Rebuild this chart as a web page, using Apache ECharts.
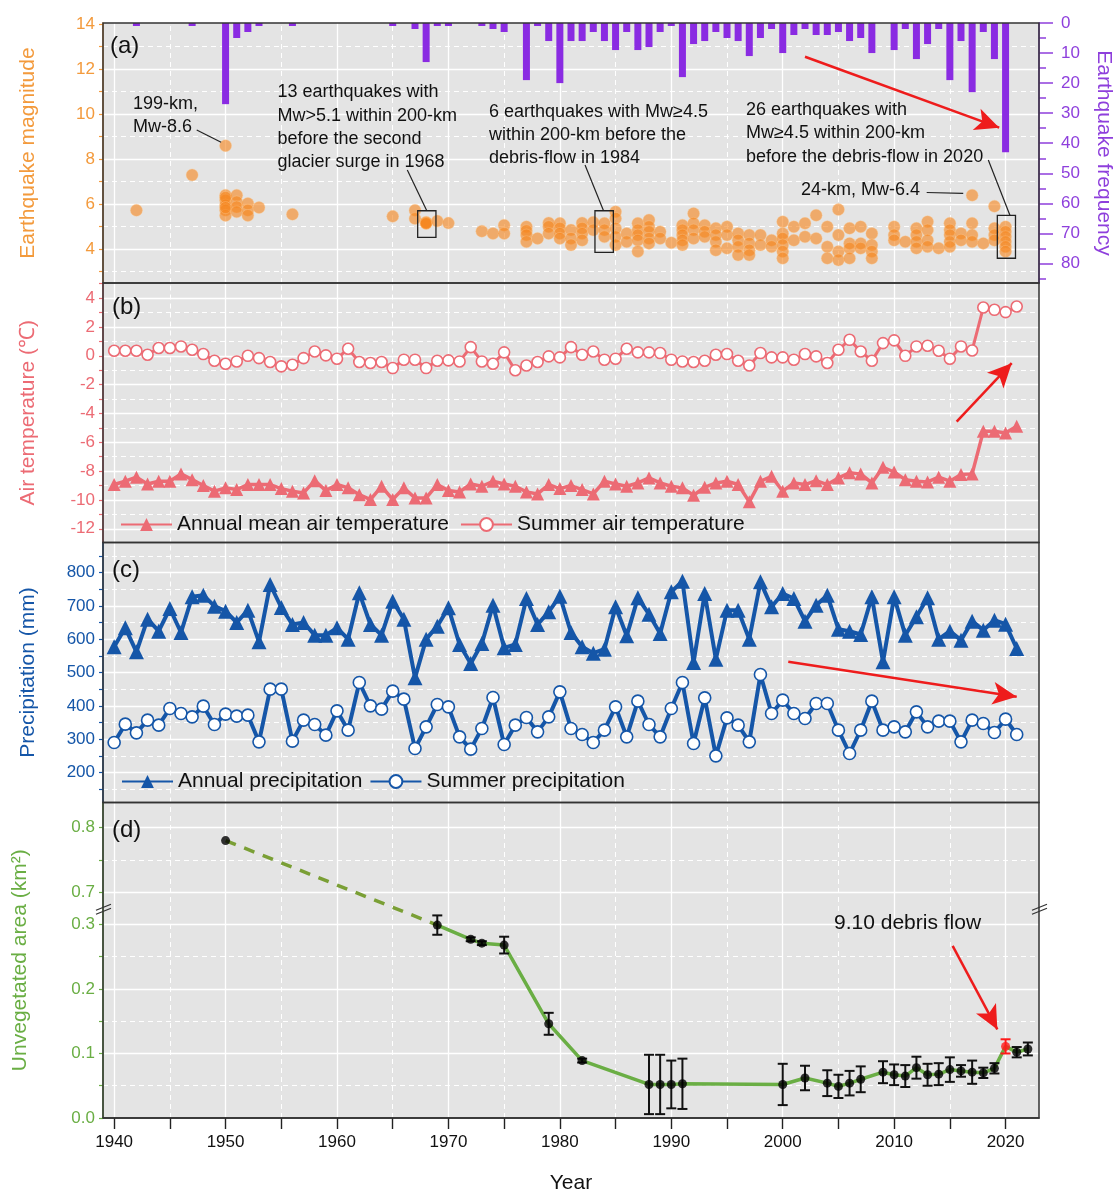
<!DOCTYPE html>
<html>
<head>
<meta charset="utf-8">
<script src="https://cdn.jsdelivr.net/npm/echarts@6/dist/echarts.min.js"></script>
<style>
html,body{margin:0;padding:0;background:#fff}
#chart{width:1116px;height:1195px}
</style>
</head>
<body>
<div id="chart"></div>
<script>
// ---------------- data ----------------
// (a) number of earthquakes per year within 200 km
const quakeCountYears = [1942,1947,1950,1951,1952,1953,1956,1965,1967,1968,1969,1970,1973,1974,1975,1977,1978,1979,1980,1981,1982,1983,1984,1985,1986,1987,1988,1989,1990,1991,1992,1993,1994,1995,1996,1997,1998,1999,2000,2001,2002,2003,2004,2005,2006,2007,2008,2010,2011,2012,2013,2014,2015,2016,2017,2018,2019,2020];
const quakeCounts     = [1,1,27,5,3,1,1,1,2,13,1,1,1,2,3,19,1,6,20,6,6,3,6,9,3,9,8,3,1,18,7,6,3,5,6,11,5,2,10,4,2,4,4,3,6,5,10,9,2,12,7,2,19,6,23,3,12,43];

// (a) earthquake magnitudes (Mw) grouped by year
const quakeEvents = [
  [1942,[5.73]], [1947,[7.3]],
  [1950,[8.6,6.4,6.18,5.96,5.73,5.5,6.3,5.85]], [1951,[6.4,6.1,5.88,5.66]], [1952,[6.03,5.73,5.5]], [1953,[5.85]],
  [1956,[5.55]], [1965,[5.46]], [1967,[5.73,5.36]], [1968,[5.2,5.16,5.18,5.14]], [1969,[5.25]], [1970,[5.16]],
  [1973,[4.8]], [1974,[4.7]], [1975,[5.07,4.7]],
  [1977,[5.0,4.82,4.63,4.33]], [1978,[4.48]], [1979,[5.17,5.0,4.7]], [1980,[5.15,4.93,4.7,4.48]],
  [1981,[4.85,4.48,4.19]], [1982,[5.17,4.93,4.7,4.4]], [1983,[5.2,4.85]], [1984,[5.15,4.85,4.55]],
  [1985,[5.66,5.37,4.93,4.55,4.19]], [1986,[4.7,4.33]], [1987,[5.15,4.85,4.63,4.4,3.9]],
  [1988,[5.3,5.0,4.78,4.48,4.26]], [1989,[4.78,4.48]], [1990,[4.29]], [1991,[5.07,4.85,4.63,4.4,4.19]],
  [1992,[5.59,5.15,4.85,4.48]], [1993,[5.07,4.78,4.55]], [1994,[4.93,4.63,4.33,3.96]], [1995,[5.0,4.63,4.04]],
  [1996,[4.7,4.4,4.11,3.74]], [1997,[4.63,4.26,3.96,3.74]], [1998,[4.63,4.19]], [1999,[4.4,4.11]],
  [2000,[5.22,4.7,4.48,4.19,3.9,3.6]], [2001,[5.0,4.4]], [2002,[5.15,4.55]], [2003,[5.51,4.48]],
  [2004,[5.0,4.11,3.6]], [2005,[5.76,4.63,3.9,3.52]], [2006,[4.93,4.26,4.04,3.6]], [2007,[5.0,4.26,4.04]],
  [2008,[4.7,4.19,3.9,3.6]], [2010,[5.0,4.63,4.4]], [2011,[4.33]], [2012,[4.93,4.63,4.33,4.04]],
  [2013,[5.22,4.85,4.4,4.11]], [2014,[4.04]], [2015,[5.15,4.85,4.63,4.33,4.11]], [2016,[4.7,4.4]],
  [2017,[6.4,5.15,4.63,4.33]], [2018,[4.26]], [2019,[5.91,4.93,4.63,4.4]], [2020,[5.0,4.78,4.55,4.33,4.11,3.9]]
];

// (b), (c) yearly climate records
const climateYears = [1940,1941,1942,1943,1944,1945,1946,1947,1948,1949,1950,1951,1952,1953,1954,1955,1956,1957,1958,1959,1960,1961,1962,1963,1964,1965,1966,1967,1968,1969,1970,1971,1972,1973,1974,1975,1976,1977,1978,1979,1980,1981,1982,1983,1984,1985,1986,1987,1988,1989,1990,1991,1992,1993,1994,1995,1996,1997,1998,1999,2000,2001,2002,2003,2004,2005,2006,2007,2008,2009,2010,2011,2012,2013,2014,2015,2016,2017,2018,2019,2020,2021];
const tempAnnual = [-8.93,-8.70,-8.42,-8.89,-8.70,-8.70,-8.19,-8.59,-9.00,-9.39,-9.16,-9.28,-8.93,-8.93,-8.93,-9.21,-9.39,-9.51,-8.66,-9.35,-8.93,-9.16,-9.63,-9.97,-9.05,-9.97,-9.16,-9.86,-9.86,-8.93,-9.35,-9.44,-8.89,-9.05,-8.70,-8.89,-9.05,-9.44,-9.58,-8.93,-9.21,-9.00,-9.28,-9.58,-8.70,-8.89,-9.05,-8.82,-8.47,-8.82,-9.05,-9.16,-9.67,-9.12,-8.82,-8.70,-8.93,-10.13,-8.70,-8.36,-9.39,-8.82,-8.93,-8.66,-8.93,-8.47,-8.12,-8.19,-8.82,-7.73,-8.06,-8.59,-8.70,-8.75,-8.42,-8.70,-8.24,-8.19,-5.24,-5.24,-5.35,-4.89];
const tempSummer = [0.35,0.35,0.35,0.07,0.54,0.54,0.65,0.42,0.12,-0.34,-0.55,-0.39,0.00,-0.16,-0.43,-0.73,-0.62,-0.16,0.30,0.03,-0.20,0.49,-0.43,-0.50,-0.43,-0.85,-0.27,-0.27,-0.85,-0.34,-0.32,-0.39,0.60,-0.39,-0.55,0.24,-1.00,-0.67,-0.43,-0.04,-0.11,0.60,0.07,0.30,-0.27,-0.20,0.49,0.24,0.24,0.19,-0.27,-0.39,-0.43,-0.34,0.07,0.12,-0.34,-0.67,0.19,-0.11,-0.11,-0.27,0.12,-0.04,-0.50,0.42,1.11,0.30,-0.34,0.88,1.07,0.00,0.65,0.70,0.35,-0.20,0.65,0.37,3.35,3.19,3.03,3.42];
const precipAnnual = [577,634,562,660,624,692,620,727,732,699,684,650,687,592,764,695,644,650,612,612,634,600,739,644,612,714,660,484,600,639,694,584,527,587,702,574,584,722,644,682,729,620,577,558,570,697,610,724,675,617,742,774,530,737,540,687,687,600,772,697,737,722,654,702,732,630,624,614,727,532,727,612,667,724,600,624,597,654,627,657,645,572];
const precipSummer = [290,345,319,357,342,392,377,367,399,344,375,369,372,292,450,450,294,357,344,312,385,327,470,400,390,444,420,272,337,404,397,307,270,332,425,284,342,365,322,367,442,332,314,290,327,397,307,414,344,307,392,470,287,424,250,364,342,292,494,377,417,377,362,407,407,327,257,327,414,327,337,322,382,337,354,354,292,357,347,320,360,314];

// (d) unvegetated area (km2) with uncertainty
const areaYears  = [1950,1969,1972,1973,1975,1979,1982,1988,1989,1990,1991,2000,2002,2004,2005,2006,2007,2009,2010,2011,2012,2013,2014,2015,2016,2017,2018,2019,2020,2021,2022];
const areaValues = [0.78,0.299,0.277,0.271,0.268,0.146,0.089,0.052,0.052,0.052,0.053,0.052,0.062,0.054,0.049,0.054,0.060,0.071,0.067,0.065,0.078,0.067,0.068,0.075,0.073,0.071,0.070,0.077,0.111,0.102,0.107];
const areaErrors = [0,0.015,0.003,0.003,0.013,0.017,0.003,0.046,0.046,0.037,0.039,0.032,0.019,0.020,0.018,0.019,0.020,0.017,0.016,0.017,0.017,0.017,0.017,0.019,0.009,0.018,0.008,0.008,0.011,0.008,0.010];
const debrisFlowYear = 2020;

// tick / label values
const yearLabels = [1940,1950,1960,1970,1980,1990,2000,2010,2020];
const yearTicks  = [1940,1945,1950,1955,1960,1965,1970,1975,1980,1985,1990,1995,2000,2005,2010,2015,2020];
const yearHalfDecades = [1945,1955,1965,1975,1985,1995,2005,2015];
const magLabels  = [4,6,8,10,12,14];
const magTicks   = [3,4,5,6,7,8,9,10,11,12,13,14];
const magMinor   = [3,5,7,9,11,13];
const freqLabels = [0,10,20,30,40,50,60,70,80];
const freqMinor  = [5,15,25,35,45,55,65,75,85];
const tempLabels = [-12,-10,-8,-6,-4,-2,0,2,4];
const tempTicks  = [-12,-11,-10,-9,-8,-7,-6,-5,-4,-3,-2,-1,0,1,2,3,4,5];
const tempMinor  = [-11,-9,-7,-5,-3,-1,1,3];
const precLabels = [200,300,400,500,600,700,800];
const precTicks  = [150,200,250,300,350,400,450,500,550,600,650,700,750,800,850];
const precMinor  = [150,250,350,450,550,650,750,850];
const areaLabels = [0.0,0.1,0.2,0.3,0.7,0.8];
const areaTicks  = [0.0,0.05,0.1,0.15,0.2,0.25,0.3,0.7,0.75,0.8];
const areaMinor  = [0.05,0.15,0.25,0.75];

// ---------------- styling ----------------
const FONT = '"Liberation Sans", Arial, Helvetica, sans-serif';
const ORANGE = '#f39a3c', PURPLE = '#8a2be2', PURPLE_TXT = '#8e3fdc';
const PINK = '#ec6b74', BLUE = '#1556a8', GREEN = '#6aae44', OLIVE = '#7a9f35';
const BG = '#e4e4e4';

// broken value axis of panel (d): 0.3 .. 0.7 is squeezed into a small gap
const BREAK_LOW = 0.3, BREAK_HIGH = 0.7, BREAK_GAP = 0.05;
const BREAK_MID = (BREAK_LOW + BREAK_HIGH) / 2;
const toDisplay = v => v >= BREAK_MID ? v - (BREAK_HIGH - BREAK_LOW) + BREAK_GAP : v;
const fromDisplay = d => d > BREAK_LOW + BREAK_GAP / 2 ? d + (BREAK_HIGH - BREAK_LOW) - BREAK_GAP : d;

const PANEL_LEFT = 103, PANEL_WIDTH = 936;
const panels = [
  {top: 23, height: 260},
  {top: 283, height: 259.5},
  {top: 542.5, height: 260},
  {top: 802.5, height: 315.5}
];

// ---------------- helpers ----------------
const solidGrid = {color: '#ffffff', width: 1.3, type: 'solid'};
const dashGrid = {color: '#ffffff', width: 1, type: [5, 4]};

function gridLines(idx, yIdx, solidY, dashedY) {
  const data = [];
  yearLabels.forEach(v => data.push({xAxis: v, lineStyle: solidGrid}));
  yearHalfDecades.forEach(v => data.push({xAxis: v, lineStyle: dashGrid}));
  solidY.forEach(v => data.push({yAxis: v, lineStyle: solidGrid}));
  dashedY.forEach(v => data.push({yAxis: v, lineStyle: dashGrid}));
  return {
    type: 'line', xAxisIndex: idx, yAxisIndex: yIdx, data: [], silent: true, z: 1,
    markLine: {silent: true, z: 1, symbol: ['none', 'none'], label: {show: false}, animation: false, data: data}
  };
}

function leftAxis(gridIndex, min, max, ticks, labels, color, name, nameGap, fmt) {
  return {
    gridIndex, type: 'value', min, max, position: 'left', z: 3,
    axisLine: {show: true, onZero: false, lineStyle: {color, width: 1.5}},
    axisTick: {show: true, customValues: ticks, length: 4, lineStyle: {color, width: 1.2}},
    axisLabel: {customValues: labels, color, fontSize: 17, fontFamily: FONT, margin: 8, formatter: fmt || (v => String(v))},
    splitLine: {show: false},
    name, nameLocation: 'middle', nameGap, nameRotate: 90,
    nameTextStyle: {color, fontSize: 21, fontFamily: FONT}
  };
}

const quakePoints = [];
quakeEvents.forEach(([yr, mags]) => mags.forEach(m => quakePoints.push([yr, m])));

const areaDisp = areaYears.map((y, i) => [y, toDisplay(areaValues[i])]);
const errBars = [];
areaYears.forEach((y, i) => {
  if (areaErrors[i] > 0) errBars.push([y, toDisplay(areaValues[i] - areaErrors[i]), toDisplay(areaValues[i] + areaErrors[i]), y === debrisFlowYear ? 1 : 0]);
});

const redLine = {color: '#ee1c1c', width: 2.5, type: 'solid'};
const leader = {color: '#222', width: 1.2, type: 'solid'};
const arrowHead = {symbol: 'arrow', symbolSize: [17, 24]};
const markLineBase = {silent: true, z: 5, animation: false, symbol: ['none', 'none'], label: {show: false}, lineStyle: {type: 'solid'}};

// ---------------- option ----------------
const option = {
  animation: false,
  backgroundColor: '#ffffff',
  textStyle: {fontFamily: FONT},
  grid: panels.map(p => ({left: PANEL_LEFT, width: PANEL_WIDTH, top: p.top, height: p.height, show: true,
    backgroundColor: BG, borderWidth: 0, containLabel: false, outerBoundsMode: 'none'})),
  xAxis: panels.map((p, i) => ({
    gridIndex: i, type: 'value', min: 1939, max: 2023, z: 3,
    axisLine: {show: i === 3, onZero: false, lineStyle: {color: '#222', width: 1.5}},
    axisTick: {show: i === 3, customValues: yearTicks, length: 11, lineStyle: {color: '#222', width: 1.4}},
    axisLabel: {show: i === 3, customValues: yearLabels, fontSize: 17, color: '#111', fontFamily: FONT, margin: 16, formatter: v => String(v)},
    splitLine: {show: false},
    name: i === 3 ? 'Year' : '', nameLocation: 'middle', nameGap: 55,
    nameTextStyle: {fontSize: 21, color: '#111', fontFamily: FONT}
  })),
  yAxis: [
    leftAxis(0, 2.5, 14.05, magTicks, magLabels, ORANGE, 'Earthquake magnitude', 64),
    {
      gridIndex: 0, type: 'value', min: 0, max: 86.5, inverse: true, position: 'right', z: 3,
      axisLine: {show: true, onZero: false, lineStyle: {color: PURPLE_TXT, width: 1.5}},
      axisTick: {show: true, inside: false, customValues: freqLabels, length: 14, lineStyle: {color: PURPLE_TXT, width: 1.5}},
      axisLabel: {customValues: freqLabels, color: PURPLE_TXT, fontSize: 17, fontFamily: FONT, margin: 22, formatter: v => String(v)},
      splitLine: {show: false},
      name: 'Earthquake frequency', nameLocation: 'middle', nameGap: 54, nameRotate: -90,
      nameTextStyle: {color: PURPLE_TXT, fontSize: 21, fontFamily: FONT}
    },
    leftAxis(1, -12.95, 5.05, tempTicks, tempLabels, PINK, 'Air temperature (℃)', 64),
    leftAxis(2, 110, 890, precTicks, precLabels, BLUE, 'Precipitation (mm)', 64),
    leftAxis(3, 0, 0.489, areaTicks.map(toDisplay), areaLabels.map(toDisplay), GREEN, 'Unvegetated area (km²)', 72,
      v => fromDisplay(v).toFixed(1)),
    // short ticks between the labelled frequency ticks
    {
      gridIndex: 0, type: 'value', min: 0, max: 86.5, inverse: true, position: 'right', z: 3,
      axisLine: {show: false, onZero: false},
      axisTick: {show: true, inside: false, customValues: freqMinor, length: 7, lineStyle: {color: PURPLE_TXT, width: 1.5}},
      axisLabel: {show: false}, splitLine: {show: false}
    }
  ],
  legend: [
    {data: ['Annual mean air temperature', 'Summer air temperature'], left: 115, top: 509, itemWidth: 51, itemHeight: 16, itemGap: 11,
     selectedMode: false, textStyle: {fontSize: 21, color: '#111', fontFamily: FONT}},
    {data: ['Annual precipitation', 'Summer precipitation'], left: 116, top: 766, itemWidth: 51, itemHeight: 16, itemGap: 7,
     selectedMode: false, textStyle: {fontSize: 21, color: '#111', fontFamily: FONT}}
  ],
  series: [
    gridLines(0, 0, [4, 6, 8, 10, 12], magMinor),
    gridLines(1, 2, tempLabels, tempMinor),
    gridLines(2, 3, precLabels, precMinor),
    gridLines(3, 4, [0.1, 0.2, 0.3, 0.7, 0.8].map(toDisplay), areaMinor.map(toDisplay)),

    // (a) earthquake frequency bars hanging from the top
    {
      name: 'Earthquake frequency', type: 'bar', xAxisIndex: 0, yAxisIndex: 1, barWidth: 7, z: 2,
      itemStyle: {color: PURPLE},
      data: quakeCountYears.map((y, i) => [y, quakeCounts[i]])
    },
    // (a) earthquake magnitudes
    {
      name: 'Earthquake magnitude', type: 'scatter', xAxisIndex: 0, yAxisIndex: 0, symbolSize: 12, z: 3,
      itemStyle: {color: '#f5861e', opacity: 0.62, borderColor: '#fbc890', borderWidth: 0.6},
      data: quakePoints,
      markArea: {
        silent: true, z: 4,
        itemStyle: {color: 'rgba(0,0,0,0)', borderColor: '#222', borderWidth: 1.3},
        data: [
          [{coord: [1967.24, 5.71]}, {coord: [1968.88, 4.53]}],
          [{coord: [1983.15, 5.71]}, {coord: [1984.80, 3.86]}],
          [{coord: [2019.26, 5.50]}, {coord: [2020.89, 3.60]}]
        ]
      },
      markLine: Object.assign({}, markLineBase, {
        data: [
          [{coord: [1947.41, 9.30], lineStyle: leader}, {coord: [1949.6, 8.75]}],
          [{coord: [1966.31, 7.52], lineStyle: leader}, {coord: [1968.05, 5.72]}],
          [{coord: [1982.26, 7.74], lineStyle: leader}, {coord: [1983.92, 5.71]}],
          [{coord: [2018.45, 7.96], lineStyle: leader}, {coord: [2020.40, 5.50]}],
          [{coord: [2012.92, 6.52], lineStyle: leader}, {coord: [2016.20, 6.48]}],
          [{coord: [2002.0, 12.55], lineStyle: redLine}, Object.assign({coord: [2019.43, 9.40]}, arrowHead)]
        ]
      })
    },

    // (b) air temperature
    {
      name: 'Annual mean air temperature', type: 'line', xAxisIndex: 1, yAxisIndex: 2, z: 2,
      symbol: 'triangle', symbolSize: 13, showAllSymbol: true,
      lineStyle: {color: PINK, width: 3.5}, itemStyle: {color: PINK},
      data: climateYears.map((y, i) => [y, tempAnnual[i]]),
      markLine: Object.assign({}, markLineBase, {
        data: [[{coord: [2015.61, -4.56], lineStyle: redLine}, Object.assign({coord: [2020.55, -0.51]}, arrowHead)]]
      })
    },
    {
      name: 'Summer air temperature', type: 'line', xAxisIndex: 1, yAxisIndex: 2, z: 2,
      symbol: 'circle', symbolSize: 11, showAllSymbol: true,
      lineStyle: {color: PINK, width: 3}, itemStyle: {color: '#ffffff', borderColor: PINK, borderWidth: 1.6},
      data: climateYears.map((y, i) => [y, tempSummer[i]])
    },

    // (c) precipitation
    {
      name: 'Annual precipitation', type: 'line', xAxisIndex: 2, yAxisIndex: 3, z: 2,
      symbol: 'triangle', symbolSize: 15, showAllSymbol: true,
      lineStyle: {color: BLUE, width: 4}, itemStyle: {color: BLUE},
      data: climateYears.map((y, i) => [y, precipAnnual[i]]),
      markLine: Object.assign({}, markLineBase, {
        data: [[{coord: [2000.5, 532], lineStyle: redLine}, Object.assign({coord: [2021.0, 427]}, arrowHead)]]
      })
    },
    {
      name: 'Summer precipitation', type: 'line', xAxisIndex: 2, yAxisIndex: 3, z: 2,
      symbol: 'circle', symbolSize: 12, showAllSymbol: true,
      lineStyle: {color: BLUE, width: 4}, itemStyle: {color: '#ffffff', borderColor: BLUE, borderWidth: 1.6},
      data: climateYears.map((y, i) => [y, precipSummer[i]])
    },

    // (d) unvegetated area: early estimate (dashed) and measured record (solid)
    {
      name: 'Area estimate', type: 'line', xAxisIndex: 3, yAxisIndex: 4, z: 2, symbol: 'none',
      lineStyle: {color: OLIVE, width: 3.5, type: [11, 9]},
      data: areaDisp.slice(0, 2)
    },
    {
      name: 'Area record', type: 'line', xAxisIndex: 3, yAxisIndex: 4, z: 2, symbol: 'none',
      lineStyle: {color: GREEN, width: 3.5},
      data: areaDisp.slice(1),
      markLine: Object.assign({}, markLineBase, {
        data: [[{coord: [2015.25, 0.2667], lineStyle: redLine}, Object.assign({coord: [2019.26, 0.1373]}, arrowHead)]]
      })
    },
    {
      name: 'Area error', type: 'custom', xAxisIndex: 3, yAxisIndex: 4, z: 3,
      data: errBars,
      renderItem: function (params, api) {
        const x = api.value(0);
        const lo = api.coord([x, api.value(1)]);
        const hi = api.coord([x, api.value(2)]);
        const col = api.value(3) ? '#ff1a1a' : '#111';
        const cap = 5;
        const st = {stroke: col, lineWidth: 2};
        return {type: 'group', children: [
          {type: 'line', shape: {x1: lo[0], y1: lo[1], x2: hi[0], y2: hi[1]}, style: st},
          {type: 'line', shape: {x1: lo[0] - cap, y1: lo[1], x2: lo[0] + cap, y2: lo[1]}, style: st},
          {type: 'line', shape: {x1: hi[0] - cap, y1: hi[1], x2: hi[0] + cap, y2: hi[1]}, style: st}
        ]};
      }
    },
    {
      name: 'Area points', type: 'scatter', xAxisIndex: 3, yAxisIndex: 4, z: 4, symbolSize: 9,
      data: areaDisp.map(d => ({value: d, itemStyle: {color: d[0] === debrisFlowYear ? '#ff1a1a' : '#000'}}))
    }
  ],
  graphic: [
    // panel frames
    ...panels.map(p => ({type: 'rect', z: 20, silent: true,
      shape: {x: PANEL_LEFT, y: p.top, width: PANEL_WIDTH, height: p.height},
      style: {fill: 'none', stroke: '#333', lineWidth: 1.5}})),
    // panel tags
    {type: 'text', z: 20, x: 110, y: 46, style: {text: '(a)', font: '24px ' + FONT, fill: '#111', verticalAlign: 'middle'}},
    {type: 'text', z: 20, x: 112, y: 307, style: {text: '(b)', font: '24px ' + FONT, fill: '#111', verticalAlign: 'middle'}},
    {type: 'text', z: 20, x: 112, y: 570, style: {text: '(c)', font: '24px ' + FONT, fill: '#111', verticalAlign: 'middle'}},
    {type: 'text', z: 20, x: 112, y: 830, style: {text: '(d)', font: '24px ' + FONT, fill: '#111', verticalAlign: 'middle'}},
    // annotations
    {type: 'text', z: 20, x: 133, y: 92.5, style: {text: '199-km,\nMw-8.6', font: '18px ' + FONT, lineHeight: 23, fill: '#111', verticalAlign: 'top'}},
    {type: 'text', z: 20, x: 277.5, y: 80.6, style: {text: '13 earthquakes with\nMw>5.1 within 200-km\nbefore the second\nglacier surge in 1968', font: '18px ' + FONT, lineHeight: 23.4, fill: '#111', verticalAlign: 'top'}},
    {type: 'text', z: 20, x: 489, y: 100, style: {text: '6 earthquakes with Mw≥4.5\nwithin 200-km before the\ndebris-flow in 1984', font: '18px ' + FONT, lineHeight: 23.3, fill: '#111', verticalAlign: 'top'}},
    {type: 'text', z: 20, x: 746, y: 98.3, style: {text: '26 earthquakes with\nMw≥4.5 within 200-km\nbefore the debris-flow in 2020', font: '18px ' + FONT, lineHeight: 23.3, fill: '#111', verticalAlign: 'top'}},
    {type: 'text', z: 20, x: 801, y: 190, style: {text: '24-km, Mw-6.4', font: '18px ' + FONT, fill: '#111', verticalAlign: 'middle'}},
    {type: 'text', z: 20, x: 834, y: 923, style: {text: '9.10 debris flow', font: '21px ' + FONT, fill: '#111', verticalAlign: 'middle'}}
  ]
};

const chart = echarts.init(document.getElementById('chart'));
chart.setOption(option);

// break marks on both sides of the broken axis in panel (d)
const yBreak = chart.convertToPixel({yAxisIndex: 4}, BREAK_LOW + BREAK_GAP / 2);
function breakMark(x) {
  return [0, 4].map(d => ({type: 'line', z: 21, silent: true,
    shape: {x1: x - 7, y1: yBreak + 2 + d, x2: x + 8, y2: yBreak - 4 + d},
    style: {stroke: '#333', lineWidth: 1.2}}));
}
chart.setOption({graphic: option.graphic.concat(breakMark(PANEL_LEFT), breakMark(PANEL_LEFT + PANEL_WIDTH))});
</script>
</body>
</html>
